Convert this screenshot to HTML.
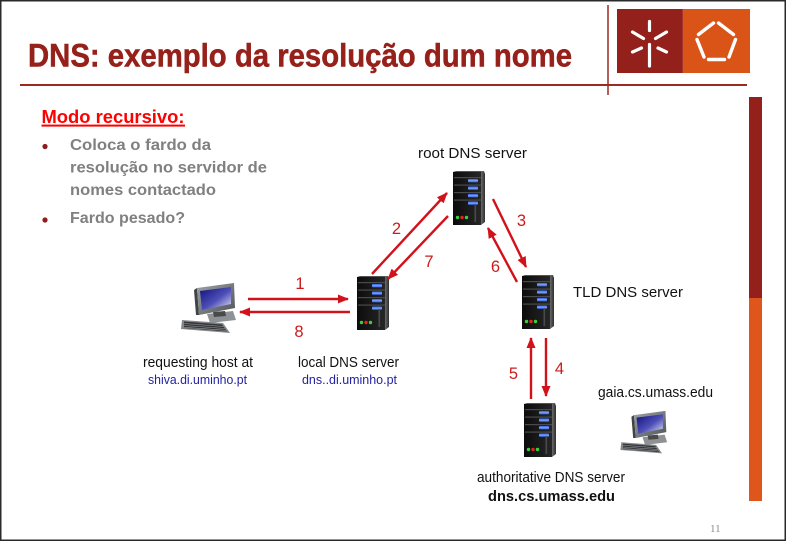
<!DOCTYPE html>
<html>
<head>
<meta charset="utf-8">
<style>
  html, body { margin: 0; padding: 0; background: #fff; }
  body { width: 788px; height: 541px; overflow: hidden; }
  svg { display: block; }
</style>
</head>
<body>
<svg width="788" height="541" viewBox="0 0 788 541" xmlns="http://www.w3.org/2000/svg">
  <defs>
    <linearGradient id="scr" x1="0" y1="0" x2="1" y2="1">
      <stop offset="0" stop-color="#10107e"/>
      <stop offset="0.55" stop-color="#4f4fb8"/>
      <stop offset="1" stop-color="#e4e4f6"/>
    </linearGradient>
    <linearGradient id="frm" x1="0" y1="0" x2="1" y2="1">
      <stop offset="0" stop-color="#9ea2a5"/>
      <stop offset="1" stop-color="#4f5457"/>
    </linearGradient>
    <linearGradient id="body" x1="0" y1="0" x2="1" y2="0">
      <stop offset="0" stop-color="#0c0c0c"/>
      <stop offset="1" stop-color="#262626"/>
    </linearGradient>
    <linearGradient id="side" x1="0" y1="0" x2="1" y2="0">
      <stop offset="0" stop-color="#6a6a6a"/>
      <stop offset="1" stop-color="#2e2e2e"/>
    </linearGradient>
    <linearGradient id="blue" x1="0" y1="0" x2="0" y2="1">
      <stop offset="0" stop-color="#2f5ee8"/>
      <stop offset="0.5" stop-color="#7aa6ff"/>
      <stop offset="1" stop-color="#2a50d0"/>
    </linearGradient>
    <marker id="ah" markerUnits="userSpaceOnUse" markerWidth="11" markerHeight="9" refX="10" refY="4.5" orient="auto">
      <path d="M0,0 L11,4.5 L0,9 z" fill="#d2121a"/>
    </marker>

    <g id="server">
      <polygon points="0,1 3,0 31,0 28,1" fill="#555"/>
      <rect x="0" y="1" width="28" height="53" fill="url(#body)"/>
      <polygon points="28,1 31,0 32,3 32,51 28,54" fill="url(#side)"/>
      <rect x="1" y="6" width="27" height="1.2" fill="#4a4a4a"/>
      <rect x="1" y="13.5" width="27" height="1.2" fill="#4a4a4a"/>
      <rect x="1" y="21" width="27" height="1.2" fill="#4a4a4a"/>
      <rect x="1" y="28.5" width="27" height="1.2" fill="#4a4a4a"/>
      <rect x="15" y="8" width="10" height="3.4" rx="1" fill="url(#blue)"/>
      <rect x="15" y="15.5" width="10" height="3.4" rx="1" fill="url(#blue)"/>
      <rect x="15" y="23" width="10" height="3.4" rx="1" fill="url(#blue)"/>
      <rect x="15" y="30.5" width="10" height="3.4" rx="1" fill="url(#blue)"/>
      <rect x="21.5" y="33" width="1.6" height="18" fill="#4a4a4a"/>
      <circle cx="4.5" cy="46.5" r="1.7" fill="#3ad03a"/>
      <circle cx="9" cy="46.5" r="1.7" fill="#e82020"/>
      <circle cx="13.5" cy="46.5" r="1.7" fill="#3ad03a"/>
    </g>

    <g id="pc">
      <polygon points="30,32 56,29 59,38 33,41" fill="#8e9295"/>
      <polygon points="36,30 48,29 49,34 37,35" fill="#4a4a4a"/>
      <polygon points="17,8 20,6 22,33 19,33" fill="#3f4447"/>
      <polygon points="20,6 57,1 58,26 22,33" fill="url(#frm)"/>
      <polygon points="23,9 54,5 54,22 25,28" fill="url(#scr)"/>
      <polygon points="5,38 46,41 53,51 4,47" fill="#85888b"/>
      <polygon points="7,39.5 45,42.5 50,49.5 7,46" fill="#353739"/>
      <line x1="7" y1="41.5" x2="47" y2="44.5" stroke="#9a9da0" stroke-width="0.6"/>
      <line x1="7" y1="43.5" x2="48" y2="46.5" stroke="#9a9da0" stroke-width="0.6"/>
      <line x1="7" y1="45.3" x2="49" y2="48.3" stroke="#9a9da0" stroke-width="0.6"/>
    </g>
  </defs>

  <!-- outer frame -->
  <rect x="0.75" y="0.75" width="784.5" height="539.5" fill="none" stroke="#2a2a2a" stroke-width="1.5"/>

  <!-- header lines -->
  <line x1="608" y1="5" x2="608" y2="95" stroke="#9a2a22" stroke-width="1.5"/>
  <line x1="20" y1="85" x2="747" y2="85" stroke="#9a2a22" stroke-width="2"/>

  <!-- title -->
  <text x="28" y="66.5" font-family="Liberation Sans Narrow, Liberation Sans, sans-serif" font-weight="bold" font-size="32" fill="#96201a" stroke="#96201a" stroke-width="0.5" textLength="544" lengthAdjust="spacingAndGlyphs">DNS: exemplo da resolução dum nome</text>

  <!-- logo -->
  <rect x="617" y="9" width="66" height="64" fill="#93201a"/>
  <rect x="683" y="9" width="67" height="64" fill="#da5418"/>
  <line x1="683" y1="9" x2="683" y2="73" stroke="#c0594d" stroke-width="0.8"/>
  <g stroke="#fff" stroke-width="3.2" stroke-linecap="round" fill="none">
    <line x1="649.5" y1="21.5" x2="649.5" y2="30.5"/>
    <line x1="649.5" y1="44.5" x2="649.5" y2="66"/>
    <line x1="632.5" y1="32" x2="643.5" y2="38.5"/>
    <line x1="655.5" y1="38.5" x2="666.5" y2="32"/>
    <line x1="632.5" y1="52" x2="641.5" y2="48"/>
    <line x1="658" y1="48" x2="666.5" y2="52"/>
  </g>
  <g stroke="#fff" stroke-width="3.4" stroke-linecap="round" fill="none">
    <line x1="718.5" y1="23" x2="733.5" y2="34.5"/>
    <line x1="735.5" y1="39.5" x2="729" y2="57"/>
    <line x1="724.5" y1="59.5" x2="708.5" y2="59.5"/>
    <line x1="704" y1="57" x2="697" y2="39.5"/>
    <line x1="698.5" y1="34.5" x2="713.5" y2="23"/>
  </g>

  <!-- side bar -->
  <rect x="749" y="97" width="13" height="201" fill="#93201a"/>
  <rect x="749" y="298" width="13" height="203" fill="#de561b"/>

  <!-- page number -->
  <text x="710" y="532" font-family="Liberation Serif, serif" font-size="11" fill="#8a8a8a">11</text>

  <!-- left text -->
  <text x="41.5" y="123" font-family="Liberation Sans, sans-serif" font-weight="bold" font-size="18.5" fill="#ff0000" textLength="143" lengthAdjust="spacingAndGlyphs">Modo recursivo:</text>
  <rect x="41.5" y="124.6" width="143.5" height="2" fill="#ff0000"/>
  <circle cx="45" cy="146.5" r="2.6" fill="#8e1c1a"/>
  <circle cx="45" cy="220" r="2.6" fill="#8e1c1a"/>
  <g font-family="Liberation Sans, sans-serif" font-weight="bold" font-size="16" fill="#808080">
    <text x="70" y="150" textLength="141" lengthAdjust="spacingAndGlyphs">Coloca o fardo da</text>
    <text x="70" y="172.5" textLength="197" lengthAdjust="spacingAndGlyphs">resolução no servidor de</text>
    <text x="70" y="195" textLength="146" lengthAdjust="spacingAndGlyphs">nomes contactado</text>
    <text x="70" y="223" textLength="115" lengthAdjust="spacingAndGlyphs">Fardo pesado?</text>
  </g>

  <!-- servers -->
  <use href="#server" x="453" y="171"/>
  <use href="#server" x="357" y="276"/>
  <use href="#server" x="522" y="275"/>
  <use href="#server" x="524" y="403"/>

  <!-- computers -->
  <use href="#pc" x="177" y="282"/>
  <g transform="translate(617,410) scale(0.85)"><use href="#pc"/></g>

  <!-- arrows -->
  <g stroke="#d2121a" stroke-width="2.4" fill="none" marker-end="url(#ah)">
    <line x1="248" y1="299" x2="348" y2="299"/>
    <line x1="350" y1="312" x2="240" y2="312"/>
    <line x1="372" y1="274" x2="447" y2="193"/>
    <line x1="448" y1="216" x2="388" y2="279"/>
    <line x1="493" y1="199" x2="526" y2="267"/>
    <line x1="517" y1="282" x2="488" y2="228"/>
    <line x1="531" y1="399" x2="531" y2="338"/>
    <line x1="546" y1="338" x2="546" y2="396"/>
  </g>

  <!-- step numbers -->
  <g font-family="Liberation Sans, sans-serif" font-size="16.5" fill="#cc1c1c" text-anchor="middle">
    <text x="300" y="289">1</text>
    <text x="299" y="337">8</text>
    <text x="396.5" y="234">2</text>
    <text x="429" y="267">7</text>
    <text x="521.5" y="226">3</text>
    <text x="495.5" y="272">6</text>
    <text x="513.5" y="379">5</text>
    <text x="559.5" y="374">4</text>
  </g>

  <!-- labels -->
  <g font-family="Liberation Sans, sans-serif" font-size="15" fill="#111">
    <text x="418" y="158" textLength="109" lengthAdjust="spacingAndGlyphs">root DNS server</text>
    <text x="573" y="297" textLength="110" lengthAdjust="spacingAndGlyphs">TLD DNS server</text>
    <text x="143" y="367" textLength="110" lengthAdjust="spacingAndGlyphs">requesting host at</text>
    <text x="298" y="367" textLength="101" lengthAdjust="spacingAndGlyphs">local DNS server</text>
    <text x="598" y="397" textLength="115" lengthAdjust="spacingAndGlyphs">gaia.cs.umass.edu</text>
    <text x="477" y="482" textLength="148" lengthAdjust="spacingAndGlyphs">authoritative DNS server</text>
    <text x="488" y="501" font-weight="bold" textLength="127" lengthAdjust="spacingAndGlyphs">dns.cs.umass.edu</text>
  </g>
  <g font-family="Liberation Sans, sans-serif" font-size="13" fill="#2323a0">
    <text x="148" y="384" textLength="99" lengthAdjust="spacingAndGlyphs">shiva.di.uminho.pt</text>
    <text x="302" y="384" textLength="95" lengthAdjust="spacingAndGlyphs">dns..di.uminho.pt</text>
  </g>
</svg>
</body>
</html>
